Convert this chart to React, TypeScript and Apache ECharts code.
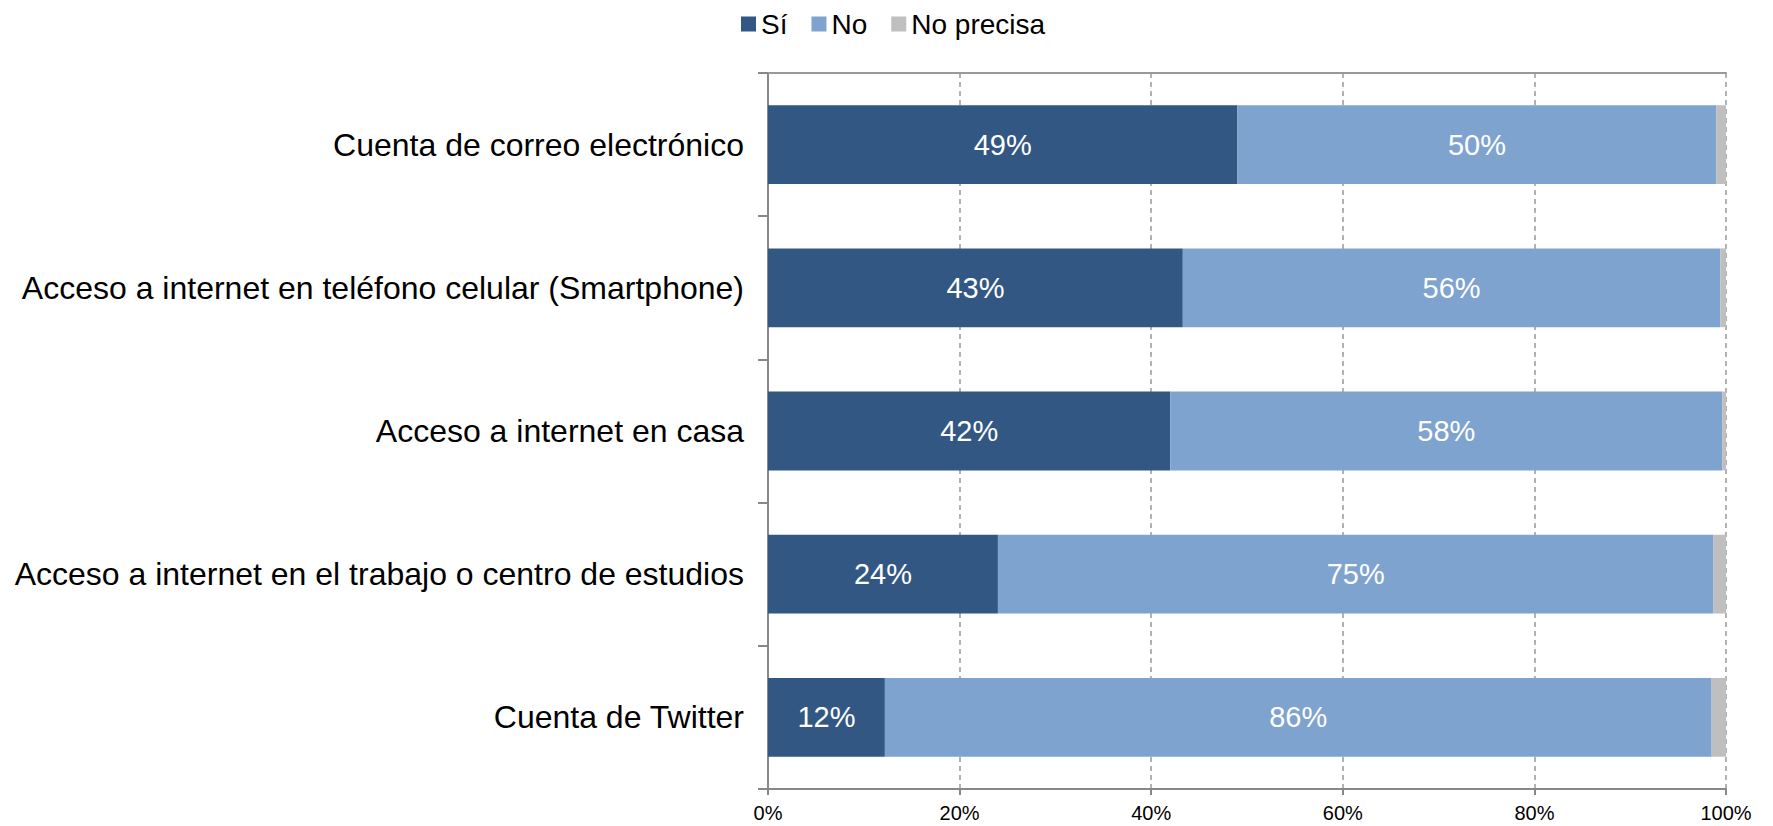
import React, { useEffect, useRef } from "react";
import * as echarts from "echarts";

const categories = [
  "Cuenta de correo electrónico",
  "Acceso a internet en teléfono celular (Smartphone)",
  "Acceso a internet en casa",
  "Acceso a internet en el trabajo o centro de estudios",
  "Cuenta de Twitter",
];
const siValues = [49, 43.3, 42, 24, 12.2];
const noValues = [50, 56.1, 57.6, 74.7, 86.3];
const noPrecisaValues = [1, 0.6, 0.4, 1.3, 1.5];
const xTicks = [0, 20, 40, 60, 80, 100];

const FONT = "'Liberation Sans', Arial, sans-serif";

export default function App() {
  const ref = useRef<HTMLDivElement>(null);
  useEffect(() => {
    document.body.style.margin = "0";
    if (!ref.current) return;
    const chart = echarts.init(ref.current, undefined, { renderer: "svg" });
    const barLabel = {
      show: true,
      position: "inside",
      color: "#ffffff",
      fontSize: 29,
      fontFamily: FONT,
      formatter: (p: any) => Math.round(p.value) + "%",
    };
    chart.setOption({
      animation: false,
      textStyle: { fontFamily: FONT },
      legend: {
        top: 5,
        left: 736,
        itemWidth: 15,
        itemHeight: 15,
        itemGap: 24,
        icon: "rect",
        textStyle: { fontSize: 28, color: "#000", fontFamily: FONT },
        data: ["Sí", "No", "No precisa"],
      },
      grid: { left: 768, right: 47, top: 73, bottom: 37, containLabel: false },
      xAxis: [
        {
          type: "value",
          min: xTicks[0],
          max: xTicks[xTicks.length - 1],
          interval: 20,
          axisLine: { show: true, lineStyle: { color: "#888", width: 2 } },
          axisTick: { show: true, length: 6, lineStyle: { color: "#888", width: 2 } },
          axisLabel: {
            formatter: "{value}%",
            fontSize: 20,
            color: "#000",
            margin: 14,
            fontFamily: FONT,
          },
          splitLine: { show: true, lineStyle: { color: "#999", type: [5, 4], width: 1.5 } },
        },
        {
          type: "value",
          position: "top",
          min: 0,
          max: 100,
          interval: 20,
          axisLine: { show: true, lineStyle: { color: "#999", width: 2 } },
          axisTick: { show: false },
          axisLabel: { show: false },
          splitLine: { show: false },
        },
      ],
      yAxis: {
        type: "category",
        inverse: true,
        data: categories,
        axisLine: { show: true, lineStyle: { color: "#888", width: 2 } },
        axisTick: { show: true, length: 10, lineStyle: { color: "#888", width: 2 } },
        axisLabel: { fontSize: 32, color: "#000", margin: 24, fontFamily: FONT },
      },
      series: [
        {
          name: "Sí",
          type: "bar",
          stack: "t",
          barWidth: "55%",
          data: siValues,
          itemStyle: { color: "#325783" },
          label: barLabel,
        },
        {
          name: "No",
          type: "bar",
          stack: "t",
          data: noValues,
          itemStyle: { color: "#7EA3CE" },
          label: barLabel,
        },
        {
          name: "No precisa",
          type: "bar",
          stack: "t",
          data: noPrecisaValues,
          itemStyle: { color: "#BFBFBF" },
          label: { show: false },
        },
      ],
    });
    return () => chart.dispose();
  }, []);
  return <div ref={ref} style={{ width: 1773, height: 826 }} />;
}
